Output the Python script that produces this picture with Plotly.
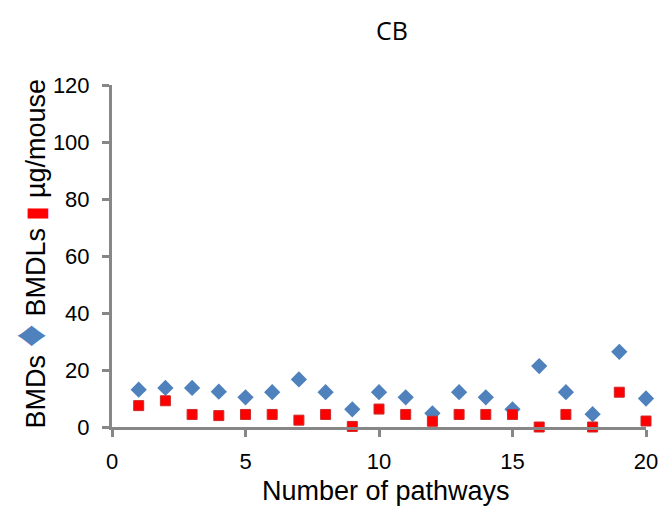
import plotly.graph_objects as go

# Pathway index and benchmark dose values (µg/mouse)
pathways = list(range(1, 21))
bmds = [13.1, 13.7, 13.7, 12.4, 10.4, 12.2, 16.7, 12.2, 6.2, 12.2,
        10.4, 4.8, 12.2, 10.4, 6.2, 21.4, 12.2, 4.5, 26.4, 10.0]
bmdls = [7.5, 9.2, 4.4, 4.0, 4.4, 4.4, 2.4, 4.4, 0.2, 6.3,
         4.4, 2.0, 4.4, 4.4, 4.4, 0.0, 4.4, 0.0, 12.2, 2.1]
x_ticks = [0, 5, 10, 15, 20]
y_ticks = [0, 20, 40, 60, 80, 100, 120]

fig = go.Figure()
fig.add_trace(go.Scatter(
    x=pathways, y=bmds, mode="markers", name="BMDs",
    marker=dict(symbol="diamond", size=12.5, color="#4F81BD",
                line=dict(width=0)),
    cliponaxis=False,
))
fig.add_trace(go.Scatter(
    x=pathways, y=bmdls, mode="markers", name="BMDLs",
    marker=dict(symbol="square", size=10, color="#FF0000",
                line=dict(width=1, color="#CC2a2a")),
    cliponaxis=False,
))

axis_color = "#878787"
L, R, T, B = 112, 14, 85, 79
W, H = 670, 506
pw, ph = W - L - R, H - T - B

fig.update_layout(
    width=W, height=H,
    margin=dict(l=L, r=R, t=T, b=B),
    paper_bgcolor="white", plot_bgcolor="white",
    showlegend=False,
    font=dict(family="Liberation Sans, Arial, sans-serif", color="black"),
    title=dict(text="CB", x=392 / W, xanchor="center", xref="container",
               y=1 - 31 / H, yanchor="middle", yref="container",
               font=dict(family="Open Sans, sans-serif", size=25)),
    xaxis=dict(range=[0, 20], tickvals=x_ticks, showgrid=False, zeroline=False,
               showline=True, linecolor=axis_color, linewidth=3,
               ticks="outside", ticklen=7, tickwidth=3, tickcolor=axis_color,
               ticklabelstandoff=6,
               tickfont=dict(size=22)),
    yaxis=dict(range=[0, 120], tickvals=y_ticks, showgrid=False, zeroline=False,
               showline=True, linecolor=axis_color, linewidth=3,
               ticks="outside", ticklen=7, tickwidth=3, tickcolor=axis_color,
               ticklabelstandoff=8,
               tickfont=dict(size=22)),
    annotations=[
        dict(text="Number of pathways", xref="paper", yref="paper",
             x=(391 - L) / pw, y=-(491 - (H - B)) / ph,
             xanchor="center", yanchor="middle", showarrow=False,
             font=dict(size=27)),
        dict(text="BMDs <span style='color:#4F81BD;font-size:46px'>♦</span> BMDLs "
                  "<span style='color:#FF0000'>▮</span> µg/mouse",
             textangle=-90, xref="paper", yref="paper",
             x=-(L - 27) / pw, y=(H - B - 254) / ph,
             xanchor="center", yanchor="middle", showarrow=False,
             font=dict(size=27)),
    ],
)

fig.write_html("out.html")
